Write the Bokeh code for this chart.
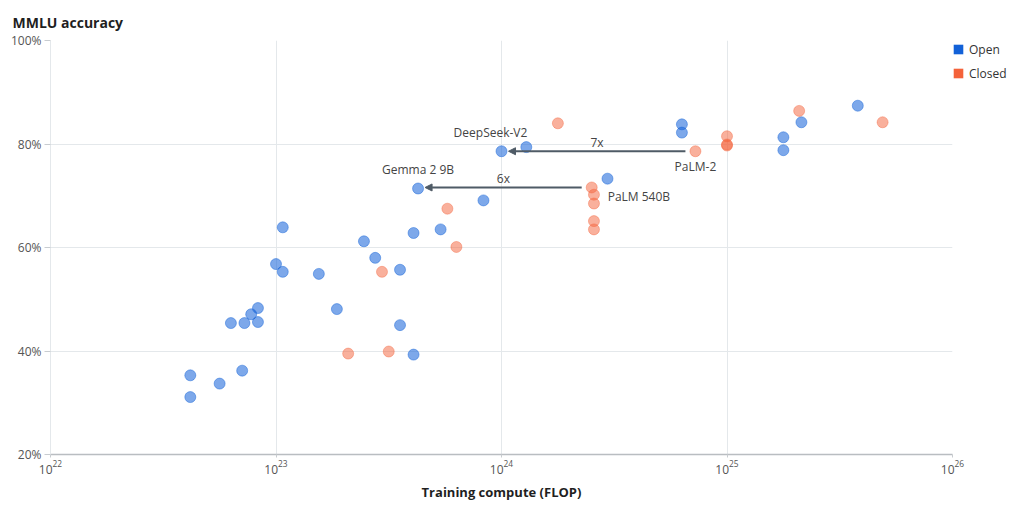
import numpy as np
from bokeh.plotting import figure
from bokeh.models import (Legend, LegendItem, Arrow, NormalHead, Label,
                          FixedTicker, PrintfTickFormatter, Range1d)
from bokeh.embed import file_html
from bokeh.resources import INLINE

# ---------------- data ----------------
open_log10_flop = [22.62, 22.62, 22.75, 22.85, 22.80, 22.86, 22.89, 22.92, 22.92,
                   23.03, 23.00, 23.03, 23.19, 23.27, 23.39, 23.44, 23.55, 23.61,
                   23.73, 23.55, 23.61, 23.63, 23.92, 24.00, 24.11, 24.47, 24.80,
                   24.80, 25.25, 25.25, 25.33, 25.58]
open_mmlu = [35.3, 31.1, 33.7, 36.2, 45.4, 45.4, 47.1, 48.3, 45.6,
             63.9, 56.8, 55.3, 54.9, 48.1, 61.2, 58.0, 55.7, 62.8,
             63.5, 45.0, 39.3, 71.4, 69.1, 78.6, 79.4, 73.3, 83.8,
             82.2, 81.3, 78.8, 84.2, 87.4]

closed_log10_flop = [23.32, 23.50, 23.47, 23.76, 23.80, 24.25, 24.40, 24.41, 24.41,
                     24.41, 24.41, 24.86, 25.00, 25.00, 25.00, 25.32, 25.69]
closed_mmlu = [39.5, 39.9, 55.3, 67.5, 60.1, 84.0, 71.6, 70.2, 68.5,
               65.1, 63.5, 78.6, 81.5, 79.9, 79.7, 86.4, 84.2]

# named models: (group, index in group)
named_models = ["DeepSeek-V2", "Gemma 2 9B", "PaLM-2", "PaLM 540B"]
named_groups = ["open", "open", "closed", "closed"]
named_index = [23, 21, 11, 6]

# comparisons: from (closed) -> to (open), ratio label
compare_from = ["PaLM-2", "PaLM 540B"]
compare_to = ["DeepSeek-V2", "Gemma 2 9B"]
compare_text = ["7x", "6x"]

y_ticks = [20, 40, 60, 80, 100]
x_ticks = [1e22, 1e23, 1e24, 1e25, 1e26]

# ---------------- style ----------------
OPEN = "#1261d8"
CLOSED = "#f4623a"
FONT = "Open Sans"
FRAME_W, FRAME_H = 902, 414
PX_PER_DECADE = FRAME_W / 4.0

open_flop = [10 ** v for v in open_log10_flop]
closed_flop = [10 ** v for v in closed_log10_flop]

def model_xy(name):
    i = named_models.index(name)
    g, k = named_groups[i], named_index[i]
    if g == "open":
        return open_flop[k], open_mmlu[k]
    return closed_flop[k], closed_mmlu[k]

p = figure(frame_width=FRAME_W, frame_height=FRAME_H, x_axis_type="log",
           x_range=Range1d(1e22, 1e26), y_range=Range1d(20, 100),
           output_backend="svg", toolbar_location=None,
           min_border_left=50, min_border_top=40, min_border_bottom=36,
           min_border_right=0)

p.outline_line_color = None
p.background_fill_color = "white"

# title
p.title.text = "MMLU accuracy"
p.title.text_font = FONT
p.title.text_font_size = "14px"
p.title.text_font_style = "bold"
p.title.text_color = "#1f1f1f"
p.title.align = "left"
p.title.offset = -38
p.title.standoff = 17

# grids
p.xgrid.grid_line_color = "#e4e8eb"
p.ygrid.grid_line_color = "#e4e8eb"
p.xgrid.minor_grid_line_color = None

# y axis
p.yaxis.ticker = FixedTicker(ticks=y_ticks)
p.yaxis.formatter = PrintfTickFormatter(format="%d%%")
p.yaxis.axis_line_color = "#e4e8eb"
p.yaxis.major_tick_line_color = "#c8ccd0"
p.yaxis.major_tick_out = 6
p.yaxis.major_tick_in = 0
p.yaxis.minor_tick_line_color = None
p.yaxis.major_label_text_font = FONT
p.yaxis.major_label_text_font_size = "12px"
p.yaxis.major_label_text_color = "#555555"
p.yaxis.major_label_standoff = 3

# x axis
p.xaxis.ticker = FixedTicker(ticks=x_ticks)
p.xaxis.axis_line_color = "#b9bdc1"
p.xaxis.axis_line_width = 1.5
p.xaxis.major_tick_line_color = "#c8ccd0"
p.xaxis.major_tick_out = 3
p.xaxis.major_tick_in = 0
p.xaxis.minor_tick_line_color = None
p.xaxis.major_label_text_font = FONT
p.xaxis.major_label_text_font_size = "12px"
p.xaxis.major_label_text_color = "#555555"
p.xaxis.major_label_standoff = 2
p.xaxis.axis_label = "Training compute (FLOP)"
p.xaxis.axis_label_text_font = FONT
p.xaxis.axis_label_text_font_size = "13px"
p.xaxis.axis_label_text_font_style = "bold"
p.xaxis.axis_label_text_color = "#1f1f1f"
p.xaxis.axis_label_standoff = 6

# points
p.scatter(open_flop, open_mmlu, size=11, fill_color=OPEN, fill_alpha=0.55,
          line_color=OPEN, line_alpha=0.45)
p.scatter(closed_flop, closed_mmlu, size=11, fill_color=CLOSED, fill_alpha=0.5,
          line_color=CLOSED, line_alpha=0.4)

# comparison arrows + ratio labels
for src, dst, txt in zip(compare_from, compare_to, compare_text):
    x0, y0 = model_xy(src)
    x1, y1 = model_xy(dst)
    xs = x0 / 10 ** (10 / PX_PER_DECADE)
    xe = x1 * 10 ** (7 / PX_PER_DECADE)
    p.add_layout(Arrow(x_start=xs, y_start=y0, x_end=xe, y_end=y0,
                       line_color="#4f5b66", line_width=2,
                       end=NormalHead(size=7, fill_color="#4f5b66",
                                      line_color="#4f5b66")))
    xm = 10 ** ((np.log10(xs) + np.log10(xe)) / 2)
    p.add_layout(Label(x=xm, y=y0, text=txt, y_offset=9,
                       text_align="center", text_baseline="middle",
                       text_font=FONT, text_font_size="12px",
                       text_color="#444444"))

# model name labels
label_offsets = {"DeepSeek-V2": (-11, 19, "center"),
                 "Gemma 2 9B": (0, 19, "center"),
                 "PaLM-2": (0, -15, "center"),
                 "PaLM 540B": (16, -9, "left")}
for name in named_models:
    x, y = model_xy(name)
    dx, dy, al = label_offsets[name]
    p.add_layout(Label(x=x, y=y, text=name, x_offset=dx, y_offset=dy,
                       text_align=al, text_baseline="middle",
                       text_font=FONT, text_font_size="12px",
                       text_color="#444444"))

# legend (square swatches) to the right of the frame
nan = [float("nan")]
r_open = p.quad(left=nan, right=nan, top=nan, bottom=nan,
                fill_color=OPEN, line_color=None)
r_closed = p.quad(left=nan, right=nan, top=nan, bottom=nan,
                  fill_color=CLOSED, line_color=None)
legend = Legend(items=[LegendItem(label="Open", renderers=[r_open]),
                       LegendItem(label="Closed", renderers=[r_closed])],
                location="top_left", orientation="vertical",
                border_line_color=None, background_fill_alpha=0,
                glyph_width=12, glyph_height=12, label_standoff=5,
                label_text_font=FONT, label_text_font_size="12px",
                label_text_color="#333333", spacing=6, padding=2, margin=0,
                label_height=18)
p.add_layout(legend, "right")

open("out.html", "w").write(file_html(p, INLINE))
